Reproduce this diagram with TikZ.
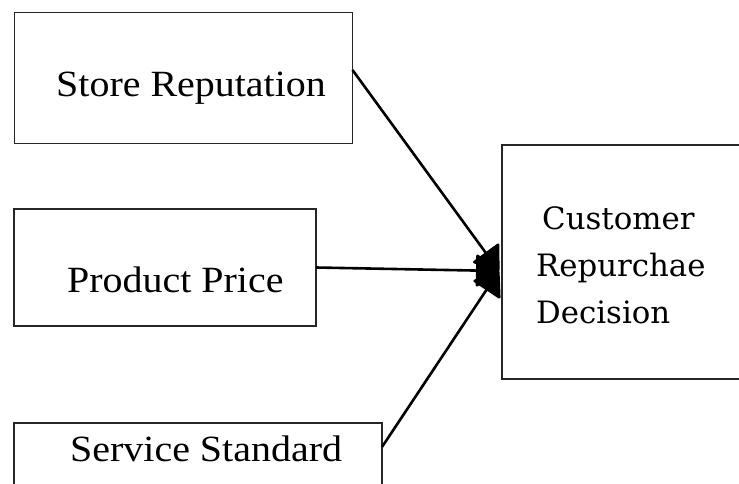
\documentclass[tikz,border=0pt]{standalone}
\usepackage{fontspec}
\usetikzlibrary{arrows.meta}
\newfontfamily\lfont[FakeStretch=1.08]{Liberation Serif}
\newfontfamily\rfont{DejaVu Serif}
\begin{document}
\begin{tikzpicture}[x=1pt,y=-1pt,
  box/.style={draw=black!85,line width=1.8pt,inner sep=0pt,outer sep=0pt},
  ltext/.style={inner sep=0pt,anchor=base west,font=\lfont\fontsize{37}{44}\selectfont},
  rtext/.style={inner sep=0pt,anchor=base west,font=\rfont\fontsize{30.8}{47}\selectfont},
  conn/.style={line width=2.6pt,-{Triangle[length=24pt,width=34pt,round]}}]
\useasboundingbox (0,0) rectangle (739,484);
\clip (0,0) rectangle (739,484);
% boxes
\node[box,minimum width=338pt,minimum height=131pt] (sr) at (183.5,78) {};
\node[box,minimum width=302pt,minimum height=117pt] (pp) at (165,267.5) {};
\node[box,minimum width=368pt,minimum height=72pt] (ss) at (198,459) {};
\node[box,minimum width=250pt,minimum height=234pt] (cr) at (627,262) {};
% texts
\node[ltext] (t1) at (56,97) {Store Reputation};
\node[ltext] (t2) at (67,292) {Product Price};
\node[ltext] (t3) at (70,461) {Service Standard};
\node[rtext] (c1) at (536,229) {\hspace{6pt}Customer};
\node[rtext] (c2) at (536,276) {Repurchae};
\node[rtext] (c3) at (536,323) {Decision};
% connectors
\coordinate (hub) at (499,271);
\draw[conn] ([yshift=8pt]sr.east) -- (hub);
\draw[conn] (pp.east) -- (hub);
\draw[conn] ([yshift=12pt]ss.east) -- (hub);
\end{tikzpicture}
\end{document}
